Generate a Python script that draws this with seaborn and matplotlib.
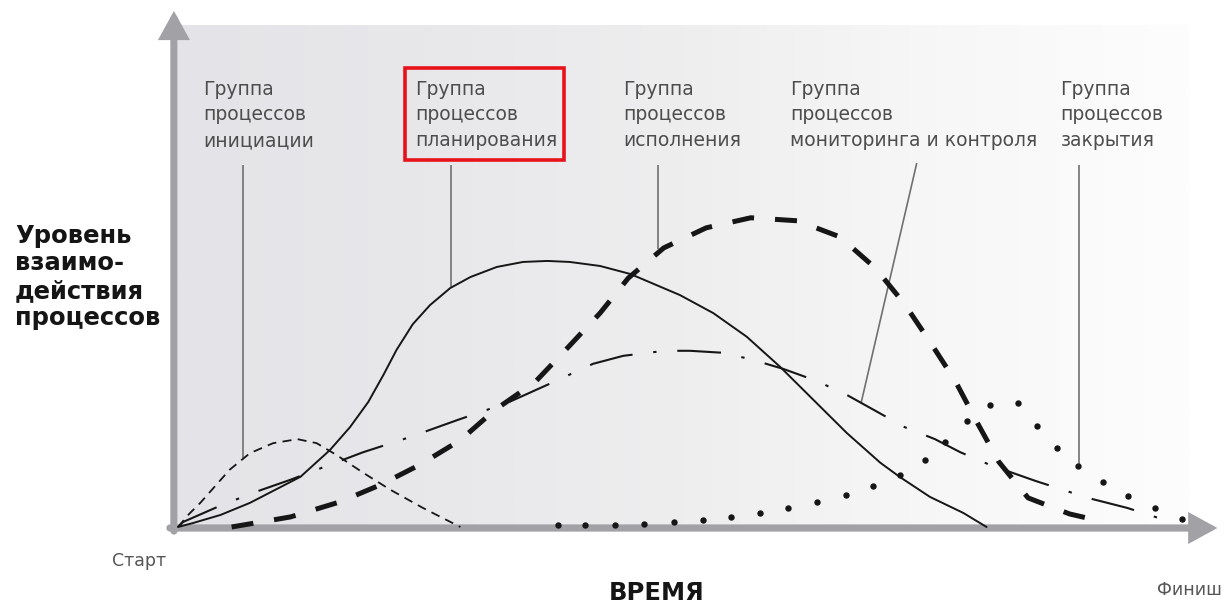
import numpy as np
import matplotlib
matplotlib.use("Agg")
import matplotlib.pyplot as plt
import seaborn as sns
from matplotlib.patches import Rectangle
from matplotlib.colors import LinearSegmentedColormap

sns.set_theme(style="white")
plt.rcParams["font.family"] = ["DejaVu Sans"]

# ---------------- data (time 0..100, interaction level 0..100) ----------------
init_x = [0, 1.1, 2.2, 5.1, 7.1, 9.4, 11.8, 13.7, 15.7, 18.3, 21.0, 24.2, 27.9]
init_y = [0, 2.6, 4.8, 11.4, 14.7, 16.7, 17.5, 16.7, 14.3, 10.8, 7.4, 3.8, 0]

plan_x = [0, 1.5, 4.2, 7.1, 9.6, 12.1, 15.0, 17.0, 18.8, 20.3, 21.6, 23.2, 24.9,
          26.9, 28.9, 31.5, 34.1, 36.5, 38.7, 41.7, 44.7, 49.6, 52.9, 56.2,
          59.5, 62.8, 66.1, 69.4, 71.3, 74.3, 77.6, 79.9]
plan_y = [0, 0.8, 2.4, 4.8, 7.4, 10.0, 15.3, 19.9, 24.9, 30.3, 35.3, 40.4, 44.2,
          47.6, 49.8, 51.8, 52.8, 53.0, 52.8, 52.0, 50.4, 46.2, 42.6, 37.9,
          31.9, 25.3, 18.7, 12.8, 10.0, 6.0, 2.8, 0]

exec_x = [5.3, 11.1, 16.0, 20.0, 23.9, 27.9, 31.3, 35.3, 38.5, 41.7, 44.5, 48.0,
          52.2, 56.6, 61.2, 65.4, 68.9, 71.8, 74.3, 76.8, 79.0, 81.1, 84.0, 88.1, 91.1]
exec_y = [0, 2.0, 5.0, 8.4, 12.4, 17.3, 23.3, 28.9, 35.7, 42.6, 49.6, 55.6,
          59.6, 61.6, 61.0, 57.8, 51.6, 44.4, 36.9, 29.1, 20.7, 13.0, 5.8, 2.6, 1.2]

mon_x = [0, 0.5, 3.9, 7.4, 11.1, 13.7, 18.3, 22.9, 27.6, 32.5, 36.8, 41.0, 44.0,
         48.1, 50.6, 53.9, 56.8, 59.8, 63.1, 66.1, 68.6, 71.8, 74.8, 77.3, 80.2,
         84.7, 89.9, 93.8, 97.5]
mon_y = [0, 1.0, 4.0, 6.8, 9.4, 11.4, 14.9, 17.9, 21.3, 24.7, 28.6, 32.5, 34.1,
         35.1, 35.1, 34.7, 33.3, 31.5, 29.1, 26.3, 23.5, 19.9, 17.5, 14.9, 12.4,
         9.2, 5.8, 3.8, 1.4]

close_x = [37.5, 40.2, 43.2, 46.0, 49.0, 51.9, 54.6, 57.5, 60.3, 63.1, 66.0, 68.7,
           71.3, 73.8, 75.8, 78.0, 80.2, 83.0, 84.9, 86.9, 88.9, 91.4, 93.9, 96.5, 99.2]
close_y = [0.4, 0.4, 0.4, 0.6, 1.0, 1.4, 2.0, 2.8, 3.8, 5.0, 6.4, 8.2,
           10.4, 13.3, 16.9, 21.1, 24.3, 24.7, 20.1, 15.7, 12.2, 9.0, 6.2, 3.8, 1.6]

group_labels = [
    ["Группа", "процессов", "инициации"],
    ["Группа", "процессов", "планирования"],
    ["Группа", "процессов", "исполнения"],
    ["Группа", "процессов", "мониторинга и контроля"],
    ["Группа", "процессов", "закрытия"],
]
label_x = [2.5, 23.4, 44.0, 60.5, 87.2]
label_line_y = [86.1, 81.0, 75.9]

# leader lines: (x_top, y_top) -> (x_bottom, y_bottom)
leader_top_x = [6.4, 27.0, 47.4, 73.0, 89.0]
leader_top_y = [72.1, 72.1, 72.1, 72.5, 72.1]
leader_bot_x = [6.4, 27.0, 47.4, 67.5, 89.0]
leader_bot_y = [13.7, 47.8, 55.4, 24.7, 12.0]

highlight_box = (22.4, 73.1, 15.7, 18.3)  # x, y, width, height

ylabel_lines = ["Уровень", "взаимо-", "действия", "процессов"]
xlabel = "ВРЕМЯ"
start_label = "Старт"
finish_label = "Финиш"

# ---------------- figure ----------------
W, H = 1224, 606
fig = plt.figure(figsize=(W / 100, H / 100), dpi=100)
fig.patch.set_facecolor("white")
ax = fig.add_axes([178 / W, (H - 527) / H, 1012 / W, 502 / H])
ax.set_xlim(0, 100)
ax.set_ylim(0, 100)
ax.axis("off")

# background gradient
grad = np.linspace(0, 1, 512)[None, :]
cmap = LinearSegmentedColormap.from_list(
    "bg", ["#e4e4e8", "#e8e8eb", "#eeeeef", "#f7f7f7", "#fdfdfd"])
ax.imshow(grad, extent=(0, 100, 0, 100), aspect="auto", cmap=cmap, zorder=0)

line_c = "#161616"
sns.lineplot(x=init_x, y=init_y, ax=ax, sort=False, color=line_c, linewidth=1.3,
             linestyle=(0, (5, 3.5)), clip_on=False, zorder=4)
sns.lineplot(x=plan_x, y=plan_y, ax=ax, sort=False, color=line_c, linewidth=1.4,
             clip_on=False, zorder=4)
sns.lineplot(x=exec_x, y=exec_y, ax=ax, sort=False, color=line_c, linewidth=3.6,
             linestyle=(0, (4.4, 4.2)), clip_on=False, zorder=5)
sns.lineplot(x=mon_x, y=mon_y, ax=ax, sort=False, color=line_c, linewidth=1.5,
             linestyle=(0, (21, 10, 1.6, 10)), clip_on=False, zorder=4)
sns.lineplot(x=close_x, y=close_y, ax=ax, sort=False, color=line_c, linestyle="none",
             marker="o", markersize=4.6, markeredgewidth=0, clip_on=False, zorder=6)

# leaders
for xt, yt, xb, yb in zip(leader_top_x, leader_top_y, leader_bot_x, leader_bot_y):
    ax.plot([xt, xb], [yt, yb], color="#707070", linewidth=1.2, zorder=3,
            solid_capstyle="butt")

# group labels
for lx, lines in zip(label_x, group_labels):
    for ly, t in zip(label_line_y, lines):
        ax.text(lx, ly, t, fontsize=13.5, color="#4d4d4d", ha="left", va="baseline",
                zorder=7)

bx, by, bw, bh = highlight_box
ax.add_patch(Rectangle((bx, by), bw, bh, fill=False, edgecolor="#e8121a",
                       linewidth=2.6, zorder=7, clip_on=False))

# axes arrows
arrow_kw = dict(arrowstyle="-|>,head_length=1.0,head_width=0.55", color="#a2a2a6",
                lw=5.2, mutation_scale=13, shrinkA=0, shrinkB=0, joinstyle="miter")
ax.annotate("", xy=(1.027, -0.002), xytext=(-0.008, -0.002), xycoords="axes fraction",
            arrowprops=arrow_kw, zorder=2)
ax.annotate("", xy=(-0.004, 1.028), xytext=(-0.004, -0.008), xycoords="axes fraction",
            arrowprops=arrow_kw, zorder=2)

# y label
for i, t in enumerate(ylabel_lines):
    fig.text(15 / W, 1 - (243 + 27.5 * i) / H, t, fontsize=17.5, fontweight="bold",
             color="#151515", ha="left", va="baseline")

fig.text(657 / W, 1 - 600 / H, xlabel, fontsize=17.5, fontweight="bold",
         color="#151515", ha="center", va="baseline")
fig.text(112 / W, 1 - 566 / H, start_label, fontsize=12.5, color="#555555",
         ha="left", va="baseline")
fig.text(1157 / W, 1 - 595 / H, finish_label, fontsize=12.5, color="#555555",
         ha="left", va="baseline")

fig.savefig("out.png", dpi=100, facecolor="white")
